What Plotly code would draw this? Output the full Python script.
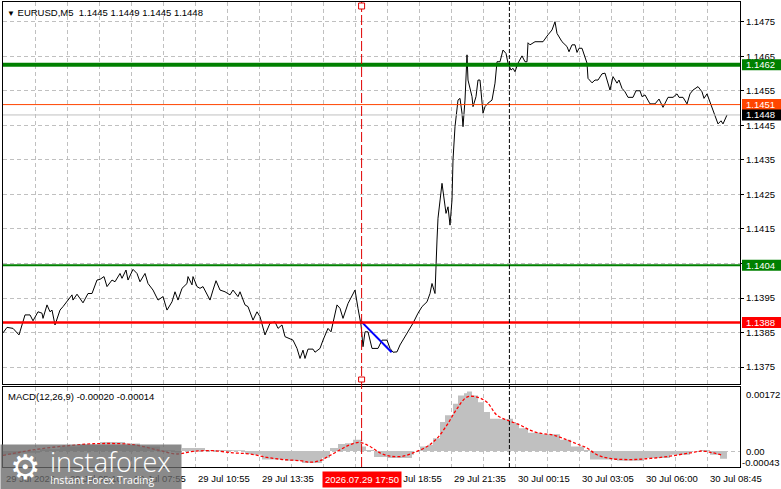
import plotly.graph_objects as go
from plotly.subplots import make_subplots

FONT = "Liberation Sans, Arial, sans-serif"

# price line: bar index (M5 bars from the left edge) and close
price_bars = [
    0, 2, 5, 8, 9.5, 11, 13.5, 15, 17.5, 19.5,
    20, 22, 23.5, 24.5, 26, 28.5, 30, 32.5, 34.5, 35,
    37, 40, 42.5, 44.5, 47, 48.5, 50.5, 52, 54.5, 56,
    58.5, 59.5, 61.5, 62.5, 65, 67, 68.5, 71, 72.5, 75,
    77.5, 80, 82, 84.5, 86, 87.5, 89.5, 92, 92.5, 94.5,
    95, 97, 98.5, 100, 102, 103.5, 105, 106.5, 108.5, 111,
    113.5, 115, 117.5, 118.5, 121, 122.5, 125, 127, 128.5, 131,
    133.5, 136, 137.5, 139.5, 141, 143.5, 145, 147, 148.5, 150,
    151, 152.5, 155, 156, 158.5, 160, 162.5, 164, 165, 167,
    168.5, 170, 172.5, 176, 177.5, 179, 180, 181, 182.5, 184.5,
    187.5, 189.5, 192, 193.5, 195, 197, 198.5, 202, 205, 207.5,
    209.5, 212, 213.5, 214.5, 216, 217, 217.5, 219.5, 220.5, 221.5,
    222.5, 223.5, 224.5, 225, 226, 227.5, 228.5, 229.5, 230, 231,
    232, 232.5, 234.5, 235, 236.5, 237.5, 238.5, 240, 241, 242.5,
    244.5, 246, 247, 248.5, 250, 251.5, 252.5, 254, 255, 256,
    257.5, 259.5, 261, 262, 262.5, 263.5, 266, 270, 272.5, 274.5,
    276, 277, 279.5, 282, 283, 284.5, 286, 287, 288, 289.5,
    292, 292.5, 294.5, 296, 297.5, 299.5, 301, 302, 303.5, 305,
    307, 308, 309.5, 311, 312.5, 315, 316.5, 318.5, 319.5, 321,
    323.5, 326, 328, 330, 332.5, 335, 337, 338, 340, 342,
    343.5, 345, 347.5, 349.5, 350.5, 352, 353.5, 355, 357.5, 359,
    360, 362,
]
price_close = [
    1.13849, 1.13865, 1.13862, 1.13843, 1.13872, 1.13901, 1.13901, 1.13884, 1.13910, 1.13906,
    1.13891, 1.13930, 1.13910, 1.13915, 1.13872, 1.13915, 1.13925, 1.13944, 1.13959, 1.13944,
    1.13961, 1.13936, 1.13963, 1.13963, 1.14002, 1.14004, 1.14012, 1.13983, 1.14002, 1.13997,
    1.14021, 1.14007, 1.14031, 1.14002, 1.14033, 1.14021, 1.13997, 1.14021, 1.13992, 1.13973,
    1.13944, 1.13954, 1.13915, 1.13939, 1.13968, 1.13944, 1.13978, 1.13992, 1.14012, 1.13988,
    1.14012, 1.13983, 1.13978, 1.13983, 1.13963, 1.13944, 1.13973, 1.14000, 1.13973, 1.13968,
    1.13959, 1.13973, 1.13954, 1.13968, 1.13930, 1.13925, 1.13886, 1.13910, 1.13896, 1.13843,
    1.13877, 1.13881, 1.13862, 1.13872, 1.13838, 1.13833, 1.13828, 1.13804, 1.13775, 1.13799,
    1.13775, 1.13802, 1.13802, 1.13793, 1.13804, 1.13828, 1.13862, 1.13852, 1.13881, 1.13930,
    1.13920, 1.13891, 1.13934, 1.13973, 1.13920, 1.13872, 1.13809, 1.13852, 1.13852, 1.13804,
    1.13804, 1.13828, 1.13828, 1.13804, 1.13793, 1.13794, 1.13814, 1.13848, 1.13877, 1.13906,
    1.13925, 1.13939, 1.13963, 1.13992, 1.13963, 1.14118, 1.14181, 1.14282, 1.14243, 1.14195,
    1.14214, 1.14161, 1.14234, 1.14350, 1.14446, 1.14523, 1.14528, 1.14485, 1.14446, 1.14523,
    1.14654, 1.14581, 1.14533, 1.14504, 1.14533, 1.14581, 1.14581, 1.14485, 1.14504, 1.14514,
    1.14523, 1.14572, 1.14634, 1.14634, 1.14668, 1.14658, 1.14630, 1.14610, 1.14615, 1.14605,
    1.14630, 1.14651, 1.14634, 1.14634, 1.14689, 1.14683, 1.14692, 1.14692, 1.14712, 1.14726,
    1.14750, 1.14716, 1.14692, 1.14678, 1.14663, 1.14683, 1.14683, 1.14661, 1.14673, 1.14673,
    1.14630, 1.14586, 1.14573, 1.14581, 1.14581, 1.14599, 1.14601, 1.14581, 1.14552, 1.14591,
    1.14572, 1.14581, 1.14557, 1.14547, 1.14531, 1.14531, 1.14550, 1.14550, 1.14533, 1.14538,
    1.14512, 1.14512, 1.14526, 1.14502, 1.14531, 1.14531, 1.14541, 1.14531, 1.14531, 1.14512,
    1.14541, 1.14552, 1.14562, 1.14547, 1.14528, 1.14541, 1.14518, 1.14489, 1.14454, 1.14463,
    1.14454, 1.14480,
]

# MACD(12,26,9): main (histogram) and signal (dotted)
macd_bars = [
    0, 8.5, 18.5, 28.5, 38.5, 48.5, 53.5, 61, 68.5, 78.5,
    86, 89.5, 97.5, 101, 114.5, 121, 124.5, 129.5, 141, 149.5,
    157.5, 159.5, 163.5, 167.5, 171, 175, 178, 179.5, 181.5, 185.5,
    192.5, 202.5, 204.5, 205.5, 208.5, 212.5, 215, 218.5, 221, 225,
    227.5, 230.5, 232, 234.5, 237.5, 240.5, 243.5, 248.5, 253.5, 255,
    258, 262.5, 269, 278.5, 284, 290.5, 293.5, 307, 320, 333.5,
    343.5, 348.5, 353.5, 358.5, 362,
]
macd_main = [
    -0.0001, -0.00005, 0.00005, 0.00012, 0.00018, 0.00024, 0.00024, 0.0002, 0.00012, 0.00002,
    -0.00004, 0.00008, 0.00008, 0.00003, 0.00002, -0.00008, -0.0001, -0.00023, -0.00026, -0.00032,
    -0.00032, -0.00018, 0.00008, 0.00019, 0.00021, 0.0003, 0.0003, 0.00012, 0.00003, -0.00016,
    -0.00019, -0.00019, -0.0001, 0.0, 0.00012, 0.00017, 0.00034, 0.00078, 0.00096, 0.00127,
    0.00149, 0.00155, 0.0016, 0.00149, 0.00131, 0.00105, 0.00087, 0.00086, 0.00087, 0.00074,
    0.00061, 0.00049, 0.00045, 0.0003, 0.00012, 0.00003, -0.00023, -0.00026, -0.00019, -0.0001,
    0.0, 0.00003, -0.0001, -0.00021, -0.0002,
]
signal_bars = [
    0, 15, 32, 48.5, 65, 77, 87, 95, 105, 115,
    123.5, 132, 140, 148.5, 153.5, 158.5, 163.5, 168.5, 173.5, 178.5,
    183.5, 188.5, 193.5, 200, 205, 212, 217, 222, 227, 232,
    237, 242, 247, 252, 258.5, 263.5, 268.5, 275, 280, 287,
    292, 297, 303.5, 313.5, 323.5, 333.5, 343.5, 350, 355, 360,
]
signal_vals = [
    -0.00012, 0.00003, 0.00014, 0.0002, 0.00017, 0.00003, -0.00008, -0.00001, 0.00001, -0.00005,
    -0.00008, -0.00017, -0.00023, -0.00026, -0.0003, -0.00026, -0.00012, 0.00003, 0.00017, 0.00023,
    0.00012, -0.00005, -0.00014, -0.00014, -0.00005, 0.00012, 0.00034, 0.0007, 0.00114, 0.00145,
    0.00145, 0.00131, 0.00096, 0.00083, 0.0007, 0.00056, 0.00048, 0.00043, 0.00034, 0.00019,
    0.00008, -0.0001, -0.0002, -0.00023, -0.0002, -0.00014, -0.00005, 0.0, -0.00005, -0.00012,
]

# horizontal levels and their price-scale tags
level_prices = [1.14625, 1.1451, 1.1448, 1.14045, 1.13879]
level_text = ["1.1462", "1.1451", "1.1448", "1.1404", "1.1388"]
level_colors = ["#008000", "#FF4500", "#C0C0C0", "#008000", "#FF0000"]
level_widths = [4, 1, 1, 2, 2.5]
tag_colors = ["#008000", "#FF4500", "#000000", "#008000", "#FF0000"]

# drawn trend segment
trend_bars = [179.3, 194.3]
trend_prices = [1.13881, 1.13793]

# vertical markers
signal_bar = 179.3
session_bar = 253.2

price_ticks = [1.1375, 1.1385, 1.1395, 1.1405, 1.1415, 1.1425, 1.1435, 1.1445, 1.1455, 1.1465, 1.1475]
price_tick_text = ["1.1375", "1.1385", "1.1395", "", "1.1415", "1.1425", "1.1435", "1.1445", "1.1455", "1.1465", "1.1475"]

time_bars = [0, 32, 64, 96, 128, 192, 224, 256, 288, 320, 352]
time_labels = ["29 Jul 2026", "29 Jul 05:10", "29 Jul 07:55", "29 Jul 10:55", "29 Jul 13:35",
               "29 Jul 18:55", "29 Jul 21:35", "30 Jul 00:15", "30 Jul 03:05", "30 Jul 06:00",
               "30 Jul 08:45"]
grid_bars = list(range(0, 368, 16))

macd_top, macd_bottom = 0.00172, -0.00043

fig = make_subplots(rows=2, cols=1, shared_xaxes=True, vertical_spacing=0.01)

fig.add_trace(go.Scatter(x=price_bars, y=price_close, mode="lines",
                         line=dict(color="black", width=1)), row=1, col=1)
fig.add_trace(go.Scatter(x=trend_bars, y=trend_prices, mode="lines",
                         line=dict(color="#0000FF", width=2)), row=1, col=1)

fig.add_trace(go.Scatter(x=macd_bars, y=macd_main, mode="lines", line_shape="hv",
                         line=dict(width=0, color="#C0C0C0"), fill="tozeroy",
                         fillcolor="#C0C0C0"), row=2, col=1)
fig.add_trace(go.Scatter(x=signal_bars, y=signal_vals, mode="lines", line_shape="spline",
                         line=dict(color="#FF0000", width=1.3, dash="3px,2px")), row=2, col=1)

for p, c, w in zip(level_prices, level_colors, level_widths):
    fig.add_shape(type="line", xref="x domain", x0=0, x1=1, yref="y", y0=p, y1=p,
                  line=dict(color=c, width=w), layer="above")

# price-scale tags on the right
for p, t, c in zip(level_prices, level_text, tag_colors):
    fig.add_shape(type="rect", xref="paper", xsizemode="pixel", xanchor=1, x0=2, x1=42,
                  yref="y", ysizemode="pixel", yanchor=p, y0=-5.5, y1=5.5,
                  fillcolor=c, line=dict(width=0), layer="above")

# vertical lines spanning both panes
fig.add_shape(type="line", xref="x", x0=signal_bar, x1=signal_bar, yref="paper", y0=0, y1=1,
              line=dict(color="#E00000", width=1, dash="10px,3px"), layer="above")
fig.add_shape(type="line", xref="x", x0=session_bar, x1=session_bar, yref="paper", y0=0, y1=1,
              line=dict(color="black", width=1, dash="4px,2px"), layer="above")
for ya, y0, y1 in [(1, -7, -1), (0.1785, 2, 7)]:
    fig.add_shape(type="rect", xref="x", xsizemode="pixel", xanchor=signal_bar, x0=-3, x1=3,
                  yref="paper", ysizemode="pixel", yanchor=ya, y0=y0, y1=y1,
                  fillcolor="white", line=dict(color="#E00000", width=1), layer="above")

grid = dict(showgrid=True, gridcolor="#C0C0C0", gridwidth=1, griddash="4px,3px")
frame = dict(showline=True, mirror=True, linecolor="black", linewidth=1, zeroline=False)

fig.update_xaxes(range=[0, 368.5], tickmode="array", tickvals=grid_bars, showticklabels=False,
                 ticks="", **grid, **frame)
fig.update_layout(
    yaxis=dict(domain=[0.1785, 1], range=[1.13701, 1.14807], side="right", tickmode="array",
               tickvals=price_ticks, ticktext=price_tick_text, ticks="outside", ticklen=3,
               tickcolor="black", tickfont=dict(family=FONT, size=9.5, color="black"),
               **grid, **frame),
    yaxis2=dict(domain=[0, 0.172], range=[macd_bottom, macd_top], side="right",
                tickmode="array", tickvals=[0], showticklabels=False, ticks="",
                **grid, **frame),
)

ann = []
ann.append(dict(xref="paper", yref="paper", x=0, y=1, xshift=2, yshift=-10, xanchor="left",
                yanchor="middle", showarrow=False,
                text="<span style='font-size:8px'>▼</span> EURUSD,M5&nbsp; 1.1445 1.1449 1.1445 1.1448",
                font=dict(family=FONT, size=9.5, color="black")))
ann.append(dict(xref="paper", yref="paper", x=0, y=0.172, xshift=3, yshift=-9, xanchor="left",
                yanchor="middle", showarrow=False, text="MACD(12,26,9) -0.00020 -0.00014",
                font=dict(family=FONT, size=9.5, color="black")))

for p, t in zip(level_prices, level_text):
    ann.append(dict(xref="paper", yref="y", x=1, y=p, xshift=5, xanchor="left",
                    yanchor="middle", showarrow=False, text=t, borderpad=0,
                    font=dict(family=FONT, size=9.5, color="white")))

for v, t, s, dx in [(macd_top, "0.00172", -7, 5), (0, "0.00", 0, 5), (macd_bottom, "-0.00043", 5, 1)]:
    ann.append(dict(xref="paper", yref="y2", x=1, y=v, xshift=dx, yshift=s, xanchor="left",
                    yanchor="middle", showarrow=False, text=t, borderpad=0,
                    font=dict(family=FONT, size=9.5, color="black")))

for b, t in zip(time_bars, time_labels):
    ann.append(dict(xref="x", yref="paper", x=b, y=0, xshift=1, yshift=-11, xanchor="left",
                    yanchor="middle", showarrow=False, text=t,
                    font=dict(family=FONT, size=9.5, color="black")))

ann.append(dict(xref="x", yref="paper", x=signal_bar, y=0, yshift=-12, xanchor="center",
                yanchor="middle", showarrow=False, text="2026.07.29 17:50", bgcolor="#FF0000",
                borderpad=2, font=dict(family=FONT, size=9.5, color="white")))

# instaforex watermark
ann.append(dict(xref="paper", yref="paper", x=-3 / 737, y=23 / 465, xanchor="left",
                yanchor="top", showarrow=False, text=" ", width=180, height=45, borderpad=0,
                bgcolor="rgba(105,105,105,0.78)"))
ann.append(dict(xref="paper", yref="paper", x=22 / 737, y=0, xanchor="center",
                yanchor="middle", showarrow=False, text="⚙",
                font=dict(family="DejaVu Sans", size=34, color="white")))
ann.append(dict(xref="paper", yref="paper", x=45 / 737, y=6 / 465, xanchor="left",
                yanchor="middle", showarrow=False, text="instaforex",
                font=dict(family="Open Sans", size=27, color="white", weight=300)))
ann.append(dict(xref="paper", yref="paper", x=45 / 737, y=-13 / 465, xanchor="left",
                yanchor="middle", showarrow=False, text="Instant Forex Trading",
                font=dict(family="Open Sans", size=10.5, color="white")))

fig.update_layout(
    width=781, height=489,
    margin=dict(l=3, r=41, t=2, b=22),
    paper_bgcolor="white", plot_bgcolor="white",
    showlegend=False,
    font=dict(family=FONT, size=9.5, color="black"),
    annotations=ann,
)

fig.write_html("out.html", config={"displayModeBar": False},
               post_script="document.body.style.margin='0';")
